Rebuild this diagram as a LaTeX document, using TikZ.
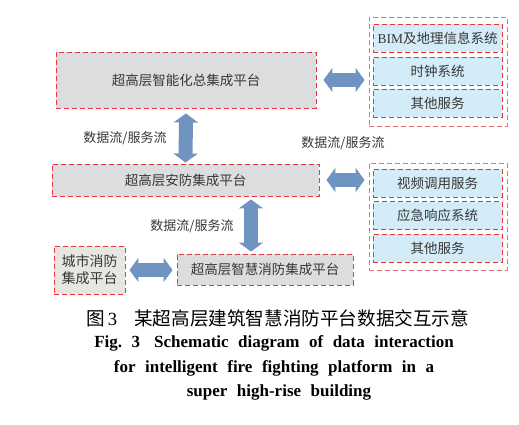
\documentclass[tikz,border=0pt]{standalone}
\usepackage{fontspec}
\setmainfont{Liberation Serif}
\newfontfamily\cjk{Noto Sans CJK SC}
\newfontfamily\capen{Liberation Serif}
\newcommand\capwide{\spaceskip=9.5pt\relax}
\usetikzlibrary{arrows.meta}
\definecolor{boxgray}{RGB}{220,221,223}
\definecolor{citygray}{RGB}{231,231,226}
\definecolor{boxblue}{RGB}{212,236,248}
\definecolor{redline}{RGB}{232,52,58}
\definecolor{pinkline}{RGB}{240,110,115}
\definecolor{arrowblue}{RGB}{112,148,192}
\definecolor{txt}{RGB}{55,55,55}
\tikzset{
  plat/.style={draw=redline, line width=0.9pt, dash pattern=on 5pt off 3pt, fill=boxgray, inner sep=0pt, text=txt, font=\cjk\fontsize{13.5}{16}\selectfont, align=center},
  svc/.style={plat, fill=boxblue, minimum width=129pt, minimum height=28pt},
  grp/.style={draw=pinkline, line width=0.9pt, dash pattern=on 5pt off 3pt, inner sep=0pt, minimum width=138pt},
  flow/.style={draw=arrowblue, line width=14pt, {Triangle[length=9pt,width=24pt]}-{Triangle[length=9pt,width=24pt]}},
  lbl/.style={text=txt, inner sep=0pt, font=\cjk\fontsize{13}{15}\selectfont},
  capline/.style={inner sep=0pt, font=\capen\bfseries\fontsize{17}{20}\selectfont}
}
\begin{document}
\begin{tikzpicture}[x=1pt,y=-1pt]
\useasboundingbox (0,0) rectangle (519,424);
% right groups
\node[grp, minimum height=109pt] (g1) at (438,71.5) {};
\node[grp, minimum height=107pt] (g2) at (438,216.5) {};
\node[svc] (bim) at (437.5,38) {{\rmfamily BIM}及地理信息系统};
\node[svc] (clock) at (437.5,71) {时钟系统};
\node[svc] (other1) at (437.5,103) {其他服务};
\node[svc] (video) at (437.5,183) {视频调用服务};
\node[svc] (emerg) at (437.5,215.5) {应急响应系统};
\node[svc] (other2) at (437.5,248) {其他服务};
% platforms
\node[plat, minimum width=260pt, minimum height=56pt] (top) at (186,80) {超高层智能化总集成平台};
\node[plat, minimum width=267pt, minimum height=32pt] (mid) at (185.5,180) {超高层安防集成平台};
\node[plat, minimum width=176pt, minimum height=31pt] (smart) at (265,269.5) {超高层智慧消防集成平台};
\node[plat, fill=citygray, minimum width=71pt, minimum height=48pt, font=\cjk\fontsize{14}{17}\selectfont] (city) at (89.5,270) {城市消防\\集成平台};
% flows
\draw[flow] ([xshift=7pt]top.east) -- ([xshift=-4pt]top.east -| g1.west);
\draw[flow] ([xshift=7pt]mid.east) -- ([xshift=-4pt]mid.east -| g2.west);
\draw[flow] ([yshift=-5pt]top.south) -- ([yshift=1pt]mid.north);
\draw[flow] ([xshift=65.5pt,yshift=-3pt]mid.south) -- ([xshift=65.5pt,yshift=2pt]mid.south |- smart.north);
\draw[flow] ([xshift=4pt]city.east) -- ([xshift=-4pt]city.east -| smart.west);
% labels
\node[lbl] (l1) at (125,138) {数据流/服务流};
\node[lbl] (l2) at (343,143) {数据流/服务流};
\node[lbl] (l3) at (192,226) {数据流/服务流};
% caption
\node[inner sep=0pt, anchor=west, font=\fontsize{18.6}{20}\selectfont] (cap) at (86,318) {{\cjk 图}\,3\hspace{17pt}{\cjk 某超高层建筑智慧消防平台数据交互示意}};
\node[capline] (en1) at (274,343) {\capwide Fig.\ 3\hspace{14pt}Schematic diagram of data interaction};
\node[capline] (en2) at (274,368) {\capwide for intelligent fire fighting platform in a};
\node[capline] (en3) at (279,392) {\capwide super high-rise building};
\end{tikzpicture}
\end{document}
